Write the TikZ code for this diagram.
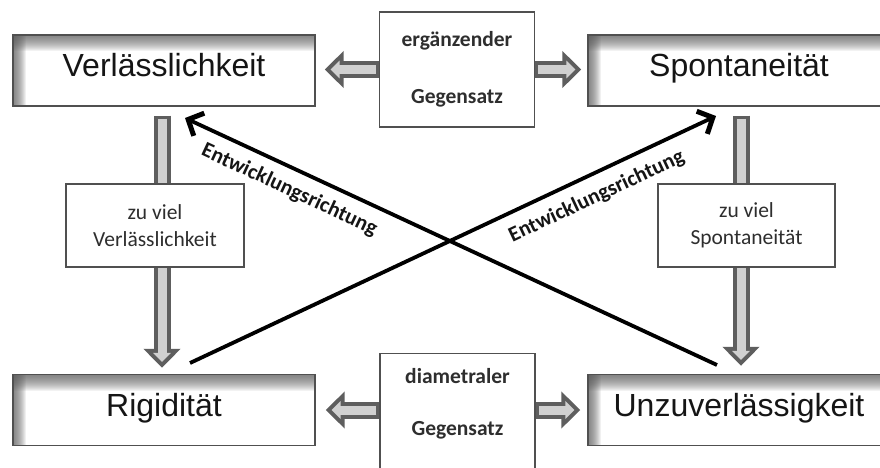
\documentclass[tikz,border=0pt]{standalone}
\usepackage{fontspec}
\setmainfont{Liberation Sans}
\newfontfamily\carlito{Carlito}
\usetikzlibrary{arrows.meta,calc}

\definecolor{boxline}{HTML}{505050}
\definecolor{shadowgray}{HTML}{5A5A5A}
\definecolor{arrowdark}{HTML}{5E5E5E}
\definecolor{arrowlight}{HTML}{D0D0D0}
\definecolor{textdark}{HTML}{151515}
\definecolor{smalltext}{HTML}{2E2E2E}

\tikzset{
  % corner box with a soft inner shadow along the top and left edges
  mainbox/.style={draw=boxline, line width=1.4pt, fill=white,
    minimum width=302pt, minimum height=71pt, inner sep=0pt,
    font=\fontsize{32}{38}\selectfont, text=textdark,
    text height=23pt, text depth=11pt,
    path picture={
      \foreach \k in {1,...,16}{
        \fill[shadowgray, opacity=0.075]
          (path picture bounding box.north west) rectangle
          ([yshift=-\k pt]path picture bounding box.north east);
      }
      \foreach \k in {1,...,13}{
        \fill[shadowgray, opacity=0.09]
          (path picture bounding box.north west) rectangle
          ([xshift=\k pt]path picture bounding box.south west);
      }
    }},
  smallbox/.style={draw=boxline, line width=1.2pt, fill=white, inner sep=0pt,
    align=center, font=\carlito\fontsize{21.5}{27}\selectfont, text=smalltext},
  midbox/.style={smallbox, font=\carlito\bfseries\fontsize{21.5}{27}\selectfont,
    minimum width=155pt},
  midtext/.style={align=center, inner sep=0pt, text=smalltext,
    font=\carlito\bfseries\fontsize{21.5}{27}\selectfont},
  % hollow block arrow: dark outline layer under a light core
  fatarrow/.style={draw=arrowdark!0!arrowlight, line width=9pt,
    -{Triangle[length=9.2pt,width=17.4pt]},
    shorten >=5.8pt, shorten <=3pt,
    preaction={draw=arrowdark, line width=17pt,
      -{Triangle[length=19pt,width=36pt]},
      shorten >=0pt, shorten <=0pt}},
  flow/.style={draw=black, line width=3.8pt},
  flowlabel/.style={font=\carlito\bfseries\fontsize{21.5}{26}\selectfont,
    text=textdark, inner sep=2pt},
}

\begin{document}
\begin{tikzpicture}[x=1pt, y=-1pt]
  \useasboundingbox (0,0) rectangle (880,467);
  \clip (0,0) rectangle (880,467);
  \fill[white] (0,0) rectangle (880,467);

  % corner boxes
  \node[mainbox] (verl)  at (164,70.5) {Verlässlichkeit};
  \node[mainbox] (spont) at (739,70.5) {Spontaneität};
  \node[mainbox] (rigid) at (164,410)  {Rigidität};
  \node[mainbox] (unzu)  at (739,410)  {Unzuverlässigkeit};

  % middle boxes
  \node[midbox, minimum height=115pt] (erg) at (457,69.5)
    {ergänzender\\[30pt]Gegensatz};
  \node[midbox, minimum height=130pt, anchor=north] (dia) at (457.5,353) {};
  \node[midtext] (diatext) at (457.5,404) {diametraler\\[25pt]Gegensatz};

  % block arrows
  \draw[fatarrow] (erg.west) -- ($(verl.east|-erg.west)+(9,0)$);
  \draw[fatarrow] (erg.east) -- ($(spont.west|-erg.east)+(-6,0)$);
  \draw[fatarrow] (dia.west|-rigid.east) -- ($(rigid.east)+(10,0)$);
  \draw[fatarrow] (dia.east|-unzu.west) -- ($(unzu.west)+(-7,0)$);
  \draw[fatarrow] ($(verl.south)+(-2,9)$) -- ($(rigid.north)+(-2,-6)$);
  \draw[fatarrow] ($(spont.south)+(2,9)$) -- ($(unzu.north)+(2,-8)$);

  % side boxes on the vertical arrows
  \node[smallbox, minimum width=178pt, minimum height=83pt] (zvv) at (155,225.5)
    {zu viel\\Verlässlichkeit};
  \node[smallbox, minimum width=177pt, minimum height=83pt] (zvs) at (746.5,225.5)
    {zu viel\\Spontaneität};

  % development directions
  \coordinate (tipA)   at (185,118);
  \coordinate (startA) at (717,365);
  \coordinate (startB) at (190,363);
  \coordinate (tipB)   at (716,116);

  \draw[flow, {Straight Barb[length=12pt,width=25pt,line width=5pt]}-] (tipA) -- (startA)
    node[flowlabel, pos=0.213, sloped, below=8pt] {Entwicklungsrichtung};
  \draw[flow, -{Straight Barb[length=12pt,width=25pt,line width=5pt]}] (startB) -- (tipB)
    node[flowlabel, pos=0.755, sloped, below=9pt] {Entwicklungsrichtung};
\end{tikzpicture}
\end{document}
